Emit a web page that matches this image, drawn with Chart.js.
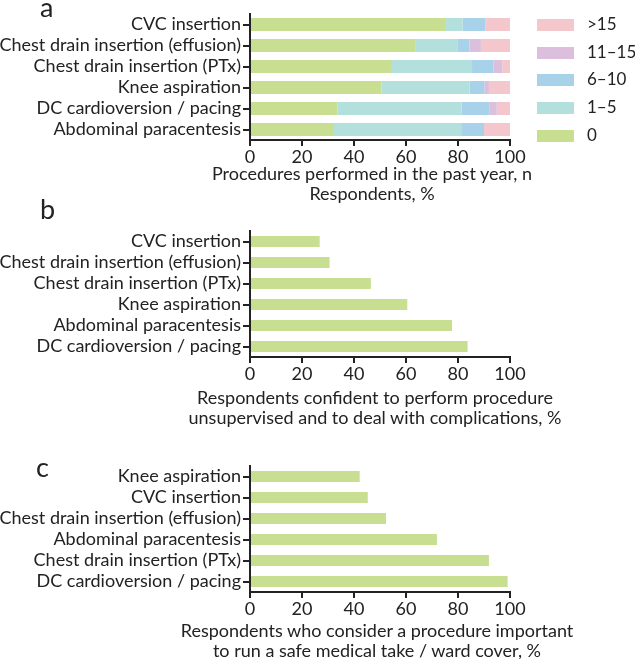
<!DOCTYPE html>
<html>
<head>
<meta charset="utf-8">
<script src="https://cdn.jsdelivr.net/npm/chart.js@4.4.0/dist/chart.umd.min.js"></script>
<style>
  body { margin: 0; background: #fff; font-family: Lato, sans-serif; color: #222; }
  #wrap { position: relative; width: 635px; height: 659px; overflow: hidden; }
  canvas { position: absolute; left: 0; }
  .txt { position: absolute; font-size: 18px; line-height: 20px; white-space: nowrap; text-align: center; }
  .panel { position: absolute; font-size: 27px; line-height: 27px; }
  .leg { position: absolute; left: 537px; font-size: 17px; line-height: 20px; white-space: nowrap; }
  .leg span { display: inline-block; width: 37px; height: 12px; margin-right: 13px; vertical-align: -1px; }
</style>
</head>
<body>
<div id="wrap">
  <canvas id="chartA" width="635" height="170" style="top:0px"></canvas>
  <canvas id="chartB" width="635" height="187" style="top:200px"></canvas>
  <canvas id="chartC" width="635" height="182" style="top:440px"></canvas>

  <div class="panel" style="left:40px; top:-7px">a</div>
  <div class="panel" style="left:40px; top:195px">b</div>
  <div class="panel" style="left:36px; top:453px">c</div>

  <div class="txt" style="left:172px; width:400px; top:163px">Procedures performed in the past year, n<br>Respondents, %</div>
  <div class="txt" style="left:175px; width:400px; top:387px">Respondents confident to perform procedure<br>unsupervised and to deal with complications, %</div>
  <div class="txt" style="left:177px; width:400px; top:620px">Respondents who consider a procedure important<br>to run a safe medical take / ward cover, %</div>

  <div id="legend"></div>
</div>

<script>
// panel a: procedures performed in the past year
const categoriesA = ['CVC insertion', 'Chest drain insertion (effusion)', 'Chest drain insertion (PTx)',
  'Knee aspiration', 'DC cardioversion / pacing', 'Abdominal paracentesis'];
const binLabels = ['0', '1–5', '6–10', '11–15', '>15'];
const bin0 = [75.0, 63.5, 54.6, 50.5, 33.6, 32.3];
const bin1to5 = [6.8, 16.2, 30.8, 34.0, 47.8, 48.9];
const bin6to10 = [8.8, 4.7, 8.3, 5.6, 10.6, 8.8];
const bin11to15 = [0, 4.4, 3.3, 1.8, 2.9, 0];
const binOver15 = [9.4, 11.2, 3.0, 8.1, 5.1, 10.0];

// panel b: confident to perform unsupervised
const categoriesB = ['CVC insertion', 'Chest drain insertion (effusion)', 'Chest drain insertion (PTx)',
  'Knee aspiration', 'Abdominal paracentesis', 'DC cardioversion / pacing'];
const confident = [26.8, 30.6, 46.5, 60.5, 77.7, 83.7];

// panel c: considered important
const categoriesC = ['Knee aspiration', 'CVC insertion', 'Chest drain insertion (effusion)',
  'Abdominal paracentesis', 'Chest drain insertion (PTx)', 'DC cardioversion / pacing'];
const important = [42.2, 45.3, 52.3, 71.9, 91.9, 99.1];

const xTicks = [0, 20, 40, 60, 80, 100];

const binColors = ['#c8df91', '#b3e0dd', '#a8d2ea', '#dbbfdc', '#f4c7cd'];
const green = '#c8df91';
const ink = '#222';
const font = { family: 'Lato', size: 18 };

function makeChart(id, labels, datasets, barPct, padTop) {
  return new Chart(document.getElementById(id).getContext('2d'), {
    type: 'bar',
    data: { labels: labels, datasets: datasets },
    options: {
      indexAxis: 'y',
      responsive: false,
      animation: false,
      datasets: { bar: { barPercentage: barPct, categoryPercentage: 1 } },
      layout: { padding: { top: padTop, right: 125, bottom: 0, left: 0 } },
      plugins: { legend: { display: false }, tooltip: { enabled: false } },
      scales: {
        x: {
          stacked: true,
          min: xTicks[0],
          max: xTicks[xTicks.length - 1],
          afterBuildTicks: s => { s.ticks = xTicks.map(v => ({ value: v })); },
          ticks: { color: ink, font: font, padding: 0, maxRotation: 0 },
          grid: { drawOnChartArea: false, tickLength: 6, color: ink, lineWidth: 2 },
          border: { color: ink, width: 2 },
          afterFit: s => { s.height = 30; }
        },
        y: {
          stacked: true,
          ticks: { color: ink, font: font, padding: 2, autoSkip: false },
          grid: { offset: false, drawOnChartArea: false, tickLength: 7, color: ink, lineWidth: 2 },
          border: { color: ink, width: 2 },
          afterFit: s => { s.width = 250; }
        }
      }
    }
  });
}

const binData = [bin0, bin1to5, bin6to10, bin11to15, binOver15];
makeChart('chartA', categoriesA, binLabels.map((lab, i) => ({
  label: lab, data: binData[i], backgroundColor: binColors[i]
})), 0.62, 14);

makeChart('chartB', categoriesB, [{ label: 'Confident', data: confident, backgroundColor: green }], 0.53, 31);
makeChart('chartC', categoriesC, [{ label: 'Important', data: important, backgroundColor: green }], 0.52, 26);

// legend, top to bottom: >15 ... 0
const legend = document.getElementById('legend');
binLabels.slice().reverse().forEach((lab, i) => {
  const color = binColors[binLabels.length - 1 - i];
  const d = document.createElement('div');
  d.className = 'leg';
  d.style.top = (14 + i * 27.7) + 'px';
  d.innerHTML = '<span style="background:' + color + '"></span>' + lab;
  legend.appendChild(d);
});
</script>
</body>
</html>
